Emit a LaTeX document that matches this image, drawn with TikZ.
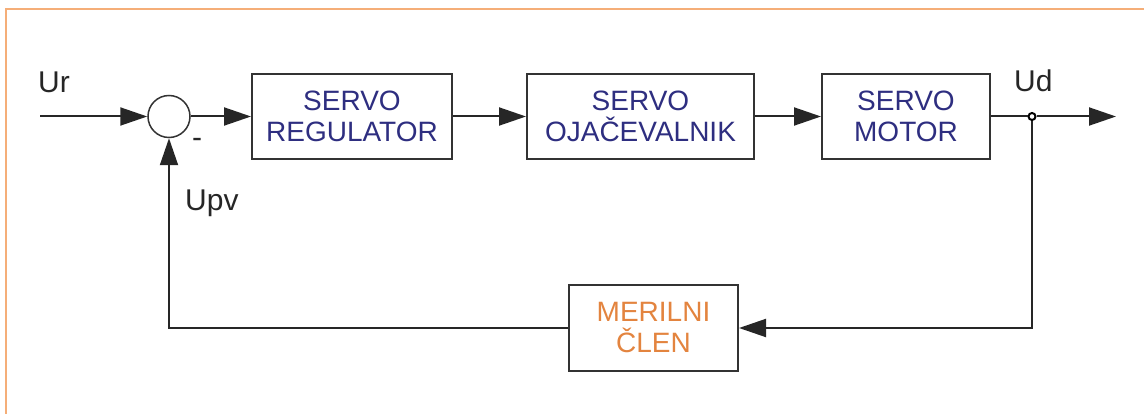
\documentclass[tikz,border=0pt]{standalone}
\usepackage{fontspec}
\setmainfont{Liberation Sans}
\usetikzlibrary{arrows.meta}
\definecolor{navy}{HTML}{2E2E80}
\definecolor{frameor}{HTML}{F5AE78}
\definecolor{meror}{HTML}{E3843F}
\begin{document}
\begin{tikzpicture}[x=1pt,y=-1pt,
  blk/.style={draw=black!80,line width=2pt,minimum height=85pt,align=center,font=\fontsize{28}{31}\selectfont,text=navy,inner sep=0pt},
  wire/.style={line width=2pt,draw=black!85},
  arr/.style={wire,-{Triangle[length=27pt,width=18pt]}},
  lbl/.style={font=\fontsize{30}{32}\selectfont,text=black!85,inner sep=0pt}]
\useasboundingbox (0,0) rectangle (1144,414);
\draw[frameor,line width=2pt] (6,414) -- (6,9) -- (1144,9);
\node[draw=black!80,line width=1.5pt,circle,minimum size=42pt,inner sep=0pt] (sum) at (169,116.5) {};
\node[blk,minimum width=200pt] (reg) at (352,116.5) {SERVO\\REGULATOR};
\node[blk,minimum width=227pt] (amp) at (640.5,116.5) {SERVO\\OJAČEVALNIK};
\node[blk,minimum width=168pt] (mot) at (906,116.5) {SERVO\\MOTOR};
\node[blk,minimum width=169pt,text=meror] (mer) at (653.5,328) {MERILNI\\ČLEN};
\coordinate (in) at (40,116.5);
\node[draw=black,line width=2pt,circle,fill=white,minimum size=7pt,inner sep=0pt] (dot) at (1032,116.5) {};
\coordinate (out) at (1116,116.5);
\coordinate (fr) at (1032,328);
\coordinate (fl) at (169,328);
\draw[arr] (in) -- (sum);
\draw[arr] (sum) -- (reg);
\draw[arr] (reg) -- (amp);
\draw[arr] (amp) -- (mot);
\draw[wire] (mot) -- (dot);
\draw[arr] (dot) -- (out);
\draw[arr] (dot) -- (fr) -- (mer);
\draw[arr] (mer) -- (fl) -- (sum);
\node[lbl,anchor=base west] (ur) at (38,93) {Ur};
\node[lbl,anchor=base west] (ud) at (1014,92) {Ud};
\node[lbl,anchor=base west] (upv) at (185,211) {Upv};
\node[lbl,anchor=center] (minus) at (197,143) {-};
\end{tikzpicture}
\end{document}
